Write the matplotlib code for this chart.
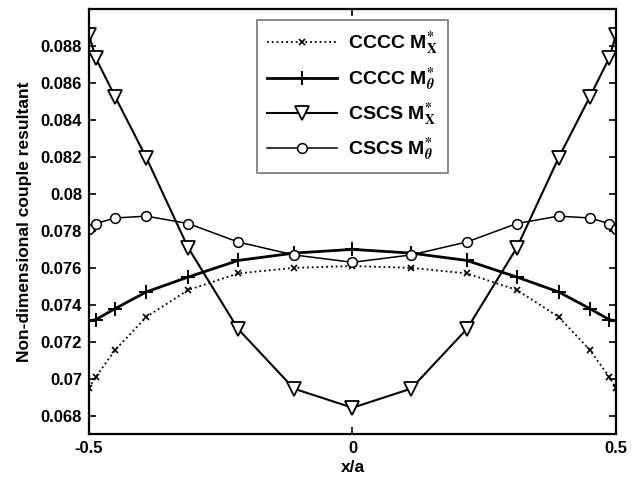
import matplotlib
matplotlib.use('Agg')
import matplotlib.pyplot as plt

plt.rcParams['font.family'] = ['Liberation Sans', 'DejaVu Sans']
plt.rcParams['font.weight'] = 'bold'
plt.rcParams['mathtext.fontset'] = 'stix'

# sample points along x/a
x = [-0.5, -0.487, -0.45, -0.391, -0.312, -0.217, -0.111, 0.0,
     0.111, 0.217, 0.312, 0.391, 0.45, 0.487, 0.5]

cccc_mx = [0.0695, 0.0701, 0.07157, 0.07335, 0.0748, 0.0757, 0.0760, 0.0761,
           0.0760, 0.0757, 0.0748, 0.07335, 0.07157, 0.0701, 0.0695]
cccc_mt = [0.07313, 0.0732, 0.0738, 0.0747, 0.0755, 0.0764, 0.0768, 0.0770,
           0.0768, 0.0764, 0.0755, 0.0747, 0.0738, 0.0732, 0.07313]
cscs_mx = [0.0886, 0.08735, 0.08524, 0.08195, 0.0771, 0.07269, 0.06946, 0.06843,
           0.06946, 0.07269, 0.0771, 0.08195, 0.08524, 0.08735, 0.0886]
cscs_mt = [0.0781, 0.0784, 0.0787, 0.0788, 0.0784, 0.0774, 0.0767, 0.0763,
           0.0767, 0.0774, 0.0784, 0.0788, 0.0787, 0.0784, 0.0781]

labels = ['CCCC M' + r'$^{*}_{\mathrm{X}}$',
          'CCCC M' + r'$^{*}_{\theta}$',
          'CSCS M' + r'$^{*}_{\mathrm{X}}$',
          'CSCS M' + r'$^{*}_{\theta}$']

yticks = [0.068, 0.07, 0.072, 0.074, 0.076, 0.078, 0.08, 0.082, 0.084, 0.086, 0.088]
yticklabels = ['0.068', '0.07', '0.072', '0.074', '0.076', '0.078', '0.08',
               '0.082', '0.084', '0.086', '0.088']

fig = plt.figure(figsize=(6.43, 4.84), dpi=100)
ax = fig.add_axes([0.1384, 0.103, 0.8196, 0.878])

ax.plot(x, cccc_mx, color='k', linestyle=':', linewidth=1.3, marker='x',
        markersize=5, markeredgewidth=1.2, label=labels[0])
ax.plot(x, cccc_mt, color='k', linestyle='-', linewidth=2.0, marker='+',
        markersize=10, markeredgewidth=1.4, label=labels[1])
ax.plot(x, cscs_mx, color='k', linestyle='-', linewidth=1.5, marker='v',
        markersize=9.5, markerfacecolor='white', markeredgewidth=1.3, label=labels[2])
ax.plot(x, cscs_mt, color='k', linestyle='-', linewidth=1.1, marker='o',
        markersize=7, markerfacecolor='white', markeredgewidth=1.1, label=labels[3])

ax.set_xlim(-0.5, 0.5)
ax.set_ylim(0.067, 0.090)
ax.set_xticks([-0.5, 0, 0.5])
ax.set_xticklabels(['-0.5', '0', '0.5'])
ax.set_yticks(yticks)
ax.set_yticklabels(yticklabels)
ax.tick_params(direction='in', top=True, right=True, labelsize=12,
               width=1.2, length=5, pad=5)
for s in ax.spines.values():
    s.set_linewidth(1.6)

ax.set_xlabel('x/a', fontsize=12.5, fontweight='bold', labelpad=3)
ax.set_ylabel('Non-dimensional couple resultant', fontsize=12.5,
              fontweight='bold', labelpad=6)

leg = ax.legend(loc='upper center', bbox_to_anchor=(0.5, 0.974), fontsize=14,
                frameon=True, fancybox=False, edgecolor='#555555',
                handlelength=3.6, labelspacing=0.4, borderpad=0.5,
                borderaxespad=0, handletextpad=0.6)
leg.get_frame().set_linewidth(1.2)

fig.savefig('out.png', dpi=100)
